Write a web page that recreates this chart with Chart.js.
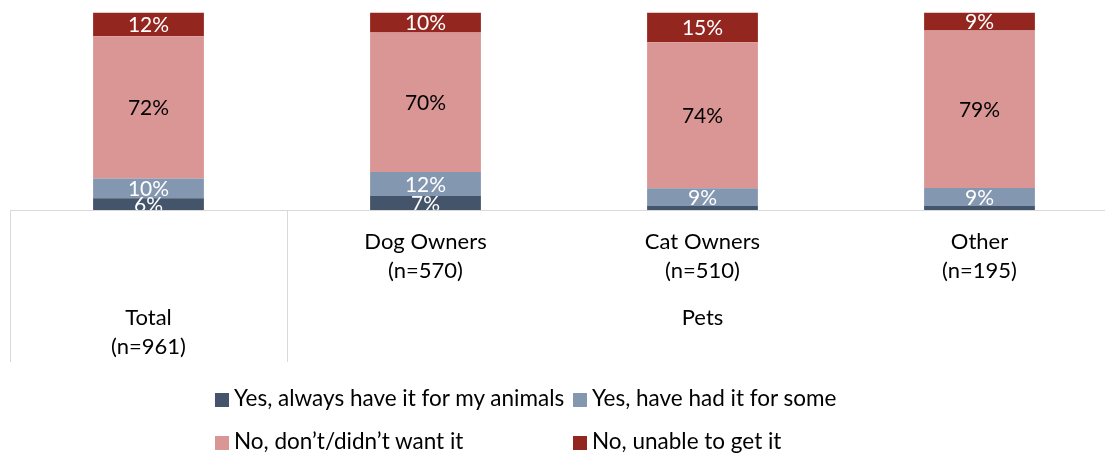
<!DOCTYPE html>
<html>
<head>
<meta charset="utf-8">
<script src="https://cdn.jsdelivr.net/npm/chart.js@4"></script>
<style>
  html, body { margin: 0; padding: 0; background: #fff; overflow: hidden; width: 1105px; height: 453px; }
  #wrap { position: relative; width: 1105px; height: 453px; overflow: hidden; }
  canvas { position: absolute; left: 0; top: 0; }
  .lg { position: absolute; font-family: Lato, "Liberation Sans", Arial, sans-serif; font-size: 22.5px; color: #000; white-space: nowrap; line-height: 24px; }
  .lg i { display: inline-block; width: 14px; height: 14px; margin-right: 5px; vertical-align: -1px; }
</style>
</head>
<body>
<div id="wrap">
  <canvas id="c" width="1120" height="453"></canvas>
  <div id="legend"></div>
</div>
<script>
const categories = ['Total', 'Dog Owners', 'Cat Owners', 'Other'];
const sampleSizes = ['(n=961)', '(n=570)', '(n=510)', '(n=195)'];
const groupLabel = 'Pets';
const seriesNames = ['Yes, always have it for my animals', 'Yes, have had it for some', 'No, don\u2019t/didn\u2019t want it', 'No, unable to get it'];
const yesAlways = [6, 7, 2, 2];
const yesSome = [10, 12, 9, 9];
const noWant = [72, 70, 74, 79];
const noUnable = [12, 10, 15, 9];
const seriesColors = ['#44546A', '#8497B0', '#DA9694', '#942620'];
const labelColors = ['#ffffff', '#ffffff', '#000000', '#ffffff'];

const raw = [yesAlways, yesSome, noWant, noUnable];
// 100% stacked: normalise each category
const totals = categories.map((_, i) => raw.reduce((s, a) => s + a[i], 0));
const datasets = raw.map((arr, k) => ({
  label: seriesNames[k],
  data: arr.map((v, i) => v / totals[i] * 100),
  rawValues: arr,
  backgroundColor: seriesColors[k],
  borderWidth: 0,
  barPercentage: 0.4,
  categoryPercentage: 1.0
}));

const FONT = 'Lato, "Liberation Sans", Arial, sans-serif';

const labelPlugin = {
  id: 'segLabels',
  afterDatasetsDraw(chart) {
    const ctx = chart.ctx, area = chart.chartArea;
    ctx.save();
    ctx.beginPath();
    ctx.rect(area.left, area.top, area.right - area.left, area.bottom - area.top);
    ctx.clip();
    ctx.font = '21px ' + FONT;
    ctx.textAlign = 'center';
    ctx.textBaseline = 'middle';
    chart.data.datasets.forEach((ds, k) => {
      const meta = chart.getDatasetMeta(k);
      meta.data.forEach((bar, i) => {
        const v = ds.rawValues[i];
        if (v < 5) return;
        const p = bar.getProps(['x', 'y', 'base'], true);
        ctx.fillStyle = labelColors[k];
        ctx.fillText(v + '%', p.x, (p.y + p.base) / 2 + 1);
      });
    });
    ctx.restore();
  },
  afterDraw(chart) {
    const ctx = chart.ctx, area = chart.chartArea, xs = chart.scales.x;
    const yAxis = area.bottom;
    const yEnd = 362;
    ctx.save();
    ctx.strokeStyle = '#d9d9d9';
    ctx.lineWidth = 1;
    ctx.beginPath();
    ctx.moveTo(area.left, yAxis + 0.5);
    ctx.lineTo(chart.width, yAxis + 0.5);
    const half = (xs.getPixelForValue(1) - xs.getPixelForValue(0)) / 2;
    const bLeft = Math.round(xs.getPixelForValue(0) - half) + 0.5;
    const bMid = Math.round(xs.getPixelForValue(1) - half) + 0.5;
    ctx.moveTo(bLeft, yAxis);
    ctx.lineTo(bLeft, yEnd);
    ctx.moveTo(bMid, yAxis);
    ctx.lineTo(bMid, yEnd);
    ctx.stroke();

    ctx.fillStyle = '#000';
    ctx.font = '22px ' + FONT;
    ctx.textAlign = 'center';
    ctx.textBaseline = 'middle';
    for (let i = 1; i < categories.length; i++) {
      const x = xs.getPixelForValue(i);
      ctx.fillText(categories[i], x, 242);
      ctx.fillText(sampleSizes[i], x, 271);
    }
    const x0 = xs.getPixelForValue(0);
    ctx.fillText(categories[0], x0, 318);
    ctx.fillText(sampleSizes[0], x0, 347);
    const gx = (xs.getPixelForValue(1) - half + xs.getPixelForValue(categories.length - 1) + half) / 2;
    ctx.fillText(groupLabel, gx, 318);
    ctx.restore();
  }
};

new Chart(document.getElementById('c'), {
  type: 'bar',
  data: { labels: categories, datasets },
  options: {
    responsive: false,
    animation: false,
    layout: { padding: { left: 10, right: 2, top: 12.5, bottom: 243 } },
    plugins: { legend: { display: false }, tooltip: { enabled: false } },
    scales: {
      x: { stacked: true, display: false },
      y: { stacked: true, display: false, min: 0, max: 100 }
    }
  },
  plugins: [labelPlugin]
});

// legend (two rows, Excel-style column placement)
const legendPos = [[215, 386], [573, 386], [215, 429], [573, 429]];
const lg = document.getElementById('legend');
seriesNames.forEach((name, k) => {
  const d = document.createElement('div');
  d.className = 'lg';
  d.style.left = legendPos[k][0] + 'px';
  d.style.top = legendPos[k][1] + 'px';
  const box = document.createElement('i');
  box.style.background = seriesColors[k];
  d.appendChild(box);
  d.appendChild(document.createTextNode(name));
  lg.appendChild(d);
});
</script>
</body>
</html>
